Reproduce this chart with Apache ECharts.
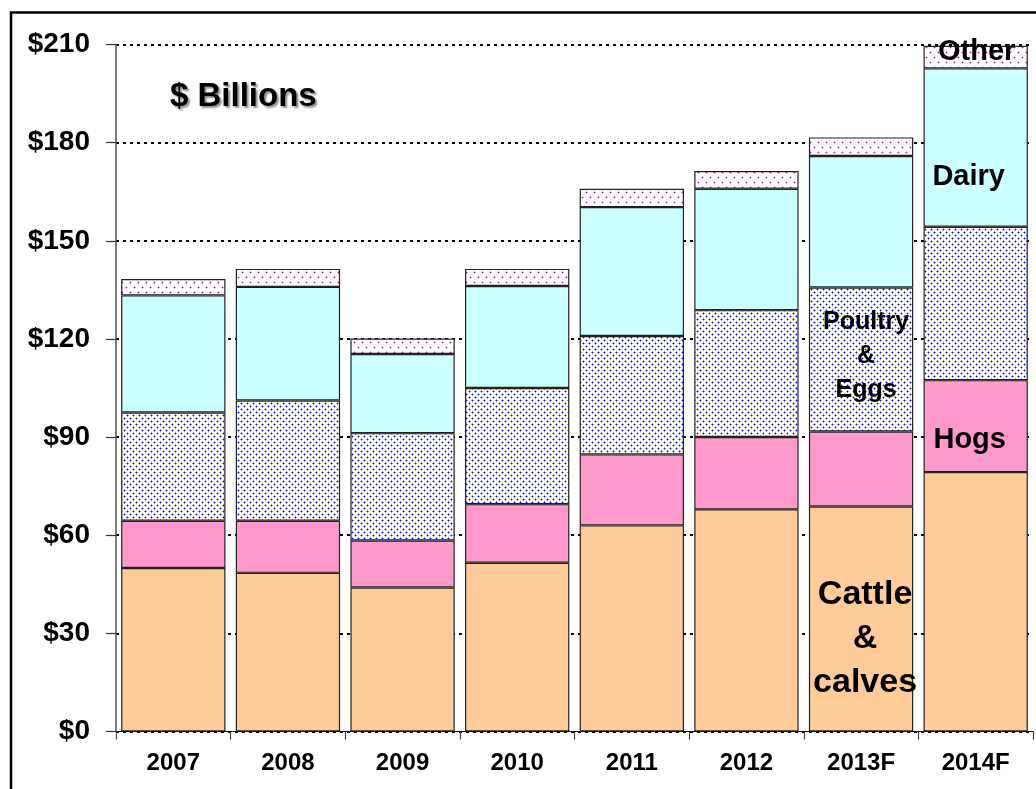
<!DOCTYPE html>
<html><head><meta charset="utf-8">
<script src="https://cdn.jsdelivr.net/npm/echarts@6/dist/echarts.min.js"></script>
<style>html,body{margin:0;padding:0;background:#fff;}#c{width:1036px;height:789px;}</style>
</head><body><div id="c"></div>
<script>
const categories = ['2007','2008','2009','2010','2011','2012','2013F','2014F'];
const cattle  = [50.0, 48.5, 44.0, 51.6, 63.0, 67.9, 68.8, 79.3];
const hogs    = [14.4, 15.9, 14.4, 17.9, 21.7, 22.1, 22.9, 28.1];
const poultry = [33.1, 36.8, 32.8, 35.5, 36.2, 38.8, 44.0, 46.9];
const dairy   = [35.8, 34.7, 24.2, 31.2, 39.4, 37.1, 40.2, 48.4];
const other   = [5.0, 5.5, 4.7, 5.2, 5.6, 5.4, 5.7, 6.9];
const yTicks  = [0, 30, 60, 90, 120, 150, 180, 210];

function dotPattern(w, h, pts, core, halo) {
  const c = document.createElement('canvas');
  c.width = w; c.height = h;
  const g = c.getContext('2d');
  g.fillStyle = '#fff'; g.fillRect(0, 0, w, h);
  pts.forEach(([x, y]) => {
    g.fillStyle = halo;
    g.fillRect(x - 1, y, 3, 1); g.fillRect(x, y - 1, 1, 3);
    g.fillStyle = core;
    g.fillRect(x, y, 1, 1);
  });
  return { image: c, repeat: 'repeat' };
}
const poultryFill = dotPattern(6, 6, [[1, 1], [4, 4]], '#0000ff', '#9a9aff');
const otherFill = dotPattern(8, 10, [[2, 2], [6, 7]], '#a02890', '#dcb0d8');

const border = { borderColor: '#222', borderWidth: 1.2 };
const FONT = 'Liberation Sans, Arial, sans-serif';
const labelFont = { fontFamily: FONT, fontWeight: 'bold', color: '#000' };

function withLabel(arr, idx, label) {
  return arr.map((v, i) => i === idx ? { value: v, label: Object.assign({ show: true, position: 'inside' }, labelFont, label) } : v);
}

const chart = echarts.init(document.getElementById('c'), null, { renderer: 'canvas' });
chart.setOption({
  animation: false,
  backgroundColor: '#fff',
  grid: { left: 116, right: 3, top: 44.5, bottom: 57.5 },
  xAxis: {
    type: 'category', data: categories,
    axisLine: { lineStyle: { color: '#000', width: 1.2 } },
    axisTick: { show: true, length: 8, lineStyle: { color: '#444', width: 1.2 } },
    axisLabel: { margin: 20, fontSize: 24, fontWeight: 'bold', color: '#000', fontFamily: FONT }
  },
  yAxis: {
    type: 'value', min: yTicks[0], max: yTicks[yTicks.length - 1], interval: 30,
    axisLine: { show: true, lineStyle: { color: '#555', width: 1.5 } },
    axisTick: { show: true, length: 10, lineStyle: { color: '#333', width: 1.2 } },
    axisLabel: { margin: 26, fontSize: 28, fontWeight: 'bold', color: '#000', fontFamily: FONT,
      formatter: v => '$' + v },
    splitLine: { show: true, lineStyle: { color: '#000', width: 1.8, type: [3, 4] } }
  },
  series: [
    { name: 'Cattle & calves', type: 'bar', stack: 's', barCategoryGap: '9%',
      itemStyle: Object.assign({ color: '#FFCC99' }, border),
      data: withLabel(cattle, 6, { formatter: 'Cattle\n&\ncalves', fontSize: 34, lineHeight: 44, offset: [4, 20] }) },
    { name: 'Hogs', type: 'bar', stack: 's',
      itemStyle: Object.assign({ color: '#FF99CC' }, border),
      data: withLabel(hogs, 7, { formatter: 'Hogs', fontSize: 29, offset: [-6, 14] }) },
    { name: 'Poultry & Eggs', type: 'bar', stack: 's',
      itemStyle: Object.assign({ color: poultryFill }, border),
      data: withLabel(poultry, 6, { formatter: 'Poultry\n&\nEggs', fontSize: 25, lineHeight: 34, offset: [5, -3] }) },
    { name: 'Dairy', type: 'bar', stack: 's',
      itemStyle: Object.assign({ color: '#CCFFFF' }, border),
      data: withLabel(dairy, 7, { formatter: 'Dairy', fontSize: 29, offset: [-7, 29] }) },
    { name: 'Other', type: 'bar', stack: 's',
      itemStyle: Object.assign({ color: otherFill }, border),
      data: withLabel(other, 7, { formatter: 'Other', fontSize: 29, offset: [1, -5] }) }
  ],
  graphic: [
    { type: 'rect', silent: true, z: 100, shape: { x: 11, y: 12.5, width: 1200, height: 1000 },
      style: { fill: null, stroke: '#000', lineWidth: 2.5 } },
    { type: 'text', z: 100, left: 170, top: 80,
      style: { text: '$ Billions', fontSize: 33, fontWeight: 'bold', fontFamily: FONT,
        fill: '#000', textShadowColor: 'rgba(0,0,0,0.45)', textShadowOffsetX: 2, textShadowOffsetY: 2, textShadowBlur: 2 } }
  ]
});
</script></body></html>
